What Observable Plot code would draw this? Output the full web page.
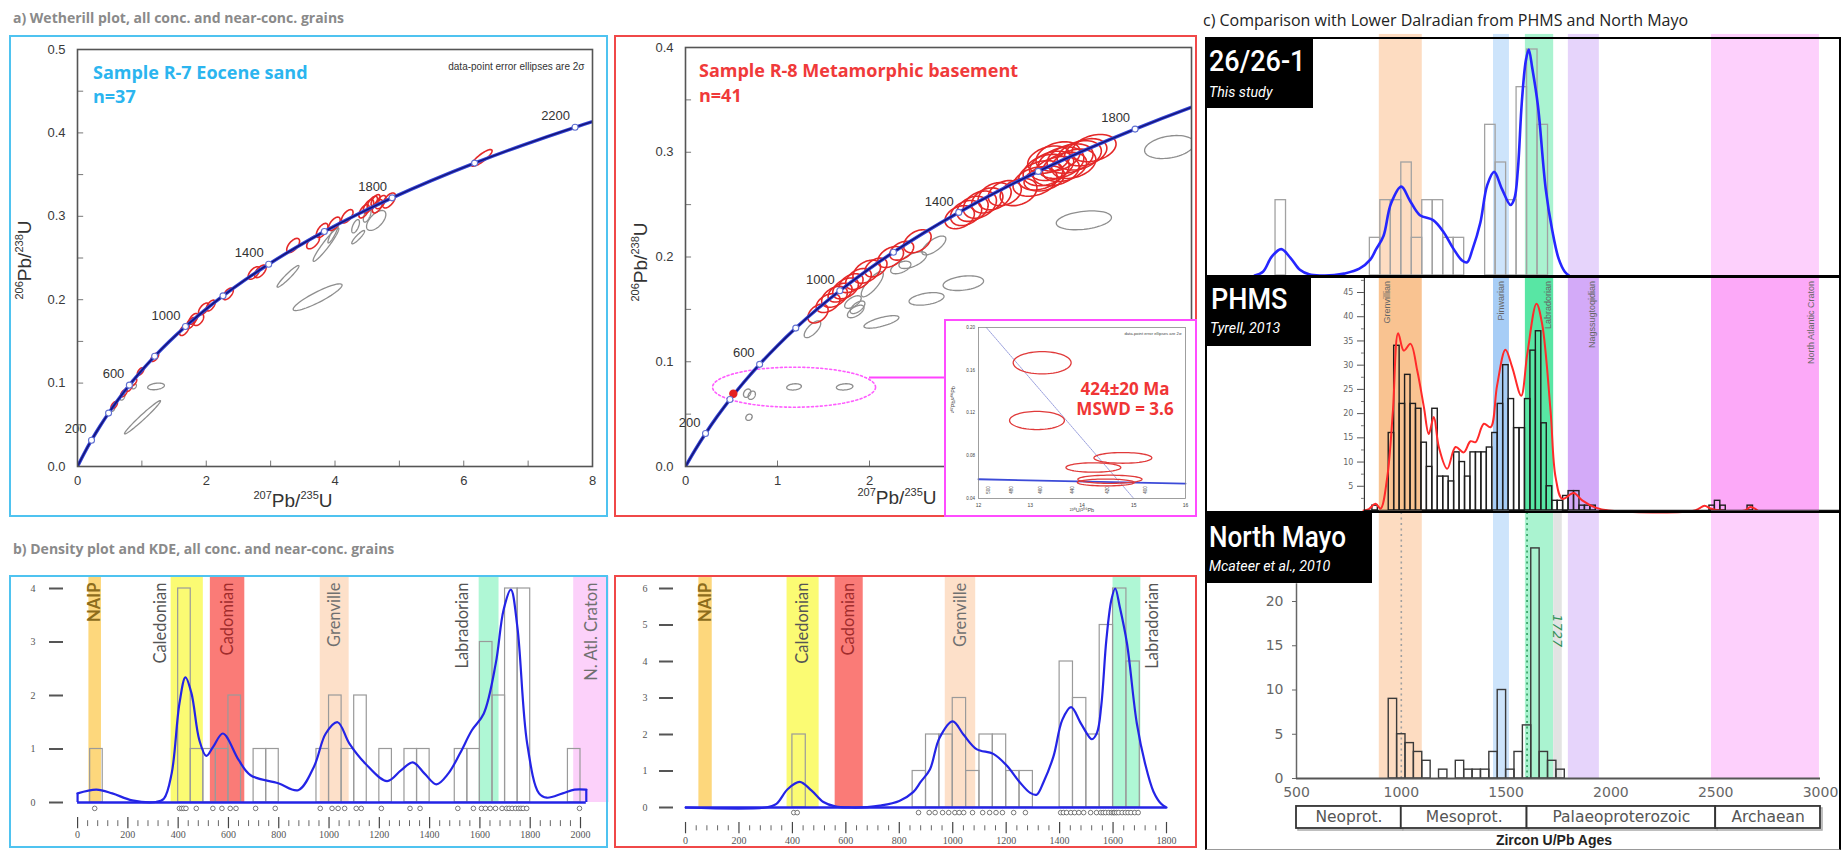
<!DOCTYPE html>
<html lang="en">
<head>
<meta charset="utf-8">
<title>Zircon U–Pb: Wetherill plots, density plots and Dalradian comparison</title>
<script src="https://cdn.jsdelivr.net/npm/d3@7"></script>
<script src="https://cdn.jsdelivr.net/npm/@observablehq/plot@0.6"></script>
<style>
  html, body { margin: 0; padding: 0; background: #fff; }
  #page { position: relative; width: 1841px; height: 851px; overflow: hidden; background: #fff; font-family: "Open Sans", sans-serif; }
  #page svg { position: absolute; overflow: visible; }
  .t { position: absolute; white-space: nowrap; line-height: 1; }
  .frame { position: absolute; box-sizing: border-box; pointer-events: none; }
  .thick [aria-label^="y-axis"] { stroke-width: 2px; }
  sup { font-size: 58%; vertical-align: 0.72em; line-height: 0; }
</style>
</head>
<body>
<div id="page"></div>
<script>
// ---------------------------------------------------------------------------
// Wetherill concordia: age (Ma), 207Pb/235U, 206Pb/238U
const concAge = [0,100,200,300,400,500,600,700,800,900,1000,1100,1200,1300,1400,1500,1600,1700,1800,1900,2000,2100,2200,2300];
const conc207 = [0,0.1035,0.2177,0.3437,0.4828,0.6363,0.8056,0.9925,1.1987,1.4263,1.6774,1.9545,2.2603,2.5977,2.9701,3.3810,3.8344,4.3348,4.8869,5.4962,6.1685,6.9104,7.7291,8.6321];
const conc206 = [0,0.01563,0.03151,0.04764,0.06402,0.08065,0.09754,0.11470,0.13213,0.14983,0.16780,0.18606,0.20460,0.22343,0.24256,0.26199,0.28172,0.30175,0.32210,0.34277,0.36377,0.38509,0.40674,0.42871];
const markerAges = [200,400,600,800,1000,1200,1400,1600,1800,2000,2200];
const labelAges = [200,600,1000,1400,1800,2200];

// Error ellipses: [207Pb/235U, 206Pb/238U, half-width x, half-width y, correlation]
const r7Red = [
  [0.57,0.0735,0.05,0.0045,0.6],[0.72,0.088,0.05,0.0045,0.6],[0.80,0.094,0.045,0.004,0.6],
  [0.87,0.101,0.05,0.0045,0.6],[0.98,0.114,0.05,0.0045,0.6],[1.20,0.131,0.06,0.005,0.6],
  [1.66,0.164,0.075,0.007,0.6],[1.76,0.172,0.07,0.0065,0.6],[1.80,0.177,0.07,0.0065,0.6],
  [1.88,0.176,0.08,0.007,0.5],[1.96,0.189,0.08,0.007,0.6],[2.07,0.193,0.07,0.0065,0.6],
  [2.34,0.207,0.08,0.007,0.6],[2.74,0.232,0.09,0.0075,0.6],[2.84,0.234,0.09,0.0075,0.6],
  [3.35,0.265,0.10,0.0085,0.6],[3.66,0.269,0.10,0.008,0.6],[3.80,0.283,0.09,0.0085,0.6],
  [3.99,0.291,0.09,0.008,0.6],[4.19,0.300,0.09,0.008,0.6],[4.45,0.306,0.08,0.008,0.6],
  [4.52,0.312,0.08,0.008,0.6],[4.58,0.316,0.08,0.008,0.6],[4.63,0.319,0.07,0.007,0.6],
  [4.66,0.312,0.08,0.008,0.6],[4.71,0.317,0.08,0.008,0.6],[4.84,0.319,0.10,0.009,0.6],
  [6.28,0.370,0.16,0.010,0.85]
];
const r7Gray = [
  [0.55,0.069,0.03,0.003,0.5],[0.70,0.083,0.035,0.0035,0.5],[0.88,0.096,0.035,0.003,0.4],
  [1.22,0.096,0.13,0.004,0.3],[1.01,0.059,0.28,0.02,0.98],[3.27,0.228,0.17,0.013,0.95],
  [3.73,0.203,0.38,0.016,0.9],[3.86,0.266,0.20,0.02,0.95],[4.36,0.275,0.10,0.008,0.9],
  [4.64,0.295,0.15,0.012,0.6],[4.32,0.288,0.06,0.008,0.6],[4.50,0.301,0.06,0.008,0.6],
  [3.97,0.279,0.08,0.011,0.9]
];
const r8Red = [
  [1.44,0.146,0.11,0.009,0.4],[1.55,0.156,0.13,0.009,0.4],[1.62,0.162,0.14,0.010,0.4],
  [1.68,0.166,0.13,0.009,0.4],[1.74,0.170,0.14,0.010,0.4],[1.80,0.175,0.13,0.009,0.4],
  [1.88,0.179,0.14,0.010,0.4],[1.97,0.186,0.15,0.011,0.4],[2.07,0.190,0.12,0.009,0.4],
  [2.23,0.200,0.14,0.010,0.4],[2.35,0.206,0.13,0.009,0.4],[2.52,0.215,0.15,0.011,0.4],
  [2.98,0.238,0.16,0.011,0.3],[3.05,0.242,0.17,0.012,0.3],[3.12,0.246,0.17,0.012,0.3],
  [3.20,0.250,0.18,0.013,0.3],[3.28,0.254,0.17,0.012,0.3],[3.36,0.258,0.18,0.013,0.3],
  [3.47,0.261,0.18,0.012,0.3],[3.62,0.262,0.20,0.013,0.3],[3.80,0.272,0.24,0.014,0.3],
  [3.86,0.278,0.24,0.014,0.3],[3.92,0.283,0.25,0.015,0.3],[3.98,0.287,0.24,0.014,0.3],
  [4.03,0.282,0.25,0.014,0.3],[4.08,0.290,0.25,0.015,0.3],[4.12,0.286,0.24,0.014,0.3],
  [4.18,0.294,0.25,0.014,0.3],[4.22,0.289,0.24,0.014,0.3],[4.28,0.297,0.24,0.014,0.3],
  [4.35,0.300,0.23,0.013,0.3],[4.44,0.304,0.24,0.013,0.3],[3.95,0.293,0.23,0.013,0.3],
  [4.05,0.296,0.24,0.014,0.3],[3.90,0.275,0.22,0.012,0.3]
];
const r8Gray = [
  [0.67,0.070,0.04,0.004,0.3],[0.72,0.068,0.04,0.004,0.3],[0.69,0.047,0.035,0.003,0.2],
  [1.18,0.076,0.08,0.003,0.2],[1.73,0.076,0.09,0.003,0.2],[1.38,0.131,0.09,0.008,0.7],
  [2.13,0.138,0.19,0.006,0.7],[1.85,0.148,0.09,0.006,0.6],[1.82,0.157,0.09,0.006,0.6],
  [1.87,0.152,0.08,0.006,0.6],[2.03,0.174,0.12,0.012,0.8],[2.62,0.160,0.19,0.006,0.4],
  [3.02,0.175,0.22,0.007,0.3],[2.47,0.197,0.15,0.008,0.6],[2.70,0.211,0.13,0.009,0.7],
  [2.34,0.190,0.11,0.006,0.5],[4.33,0.235,0.30,0.009,0.3],[5.26,0.305,0.27,0.011,0.3]
];
const r8Young = [[0.52, 0.0695]];

// Tera-Wasserburg inset: [238U/206Pb, 207Pb/206Pb, half-width x, half-width y, correlation]
const insetEllipses = [
  [13.23,0.167,0.56,0.0104,0],[13.13,0.113,0.53,0.0085,0],[14.79,0.078,0.56,0.005,0],
  [14.22,0.069,0.53,0.0044,0],[14.54,0.058,0.62,0.0038,0],[14.46,0.055,0.55,0.0032,0]
];
const insetDiscordia = [[12.15,0.20],[15.0,0.04]];
const insetConcordia = [[12,0.058],[16,0.054]];
const insetAgeTicks = [[12.2,"500"],[12.64,"480"],[13.2,"460"],[13.82,"440"],[14.5,"420"],[15.23,"400"]];

// ---------------------------------------------------------------------------
// Grain ages (Ma) for the density plots
const r7Ages = [68,405,414,422,431,472,538,574,607,630,708,786,965,1012,1036,1062,1108,1128,1208,1322,1362,
  1512,1574,1606,1622,1641,1662,1688,1706,1716,1728,1742,1754,1763,1772,1786,1996];
const r8Ages = [405,418,872,912,934,962,985,1008,1024,1041,1074,1112,1138,1162,1186,1228,1272,1404,1414,1426,1442,
  1456,1472,1490,1516,1538,1554,1563,1572,1584,1594,1601,1606,1613,1621,1634,1646,1656,1667,1681,1694];

// KDE curves: [age Ma, density]
const r7Kde = [[0,0.17],[75,0.24],[138,0.17],[217,0.04],[311,0.01],[343,0.07],[374,0.54],[405,1.85],[429,2.34],
  [453,2.04],[484,1.17],[512,0.87],[539,1.04],[578,1.29],[641,0.79],[688,0.51],[798,0.36],[877,0.23],[940,0.67],
  [987,1.29],[1034,1.50],[1081,1.10],[1144,0.73],[1231,0.40],[1286,0.60],[1333,0.75],[1380,0.54],[1427,0.34],
  [1474,0.54],[1521,0.92],[1568,1.35],[1615,1.66],[1663,2.6],[1694,3.6],[1723,3.98],[1749,3.28],[1788,1.10],
  [1835,0.17],[1866,0.09],[1929,0.17],[1976,0.24],[2023,0.24]];
const r8Kde = [[0,0],[300,0],[340,0.1],[382,0.5],[427,0.7],[471,0.47],[516,0.15],[560,0.03],[620,0],[680,0.01],
  [727,0.05],[800,0.18],[852,0.42],[880,0.7],[915,1.05],[950,1.9],[1000,2.36],[1040,2.0],[1089,1.6],[1152,1.47],
  [1202,1.15],[1250,0.7],[1290,0.4],[1314,0.35],[1340,0.7],[1377,1.4],[1410,2.4],[1443,2.75],[1480,2.3],
  [1521,1.87],[1540,2.05],[1556,2.8],[1575,4.6],[1594,5.7],[1608,6.0],[1625,5.5],[1652,4.5],[1689,2.3],
  [1720,1.2],[1751,0.44],[1780,0.1],[1800,0]];

// Orogenic events shown on the density plots (Ma)
const bandsR7 = [
  {name: "NAIP", from: 45, to: 95}, {name: "Caledonian", from: 372, to: 500},
  {name: "Cadomian", from: 528, to: 665}, {name: "Grenville", from: 965, to: 1080},
  {name: "Labradorian", from: 1597, to: 1676}, {name: "N. Atl. Craton", from: 1973, to: 2114}
];
const bandsR8 = [
  {name: "NAIP", from: 50, to: 100}, {name: "Caledonian", from: 380, to: 500},
  {name: "Cadomian", from: 560, to: 665}, {name: "Grenville", from: 972, to: 1086},
  {name: "Labradorian", from: 1600, to: 1704}
];

// ---------------------------------------------------------------------------
// Comparison panels
const bandsC = [
  {name: "Grenvillian", from: 895, to: 1100}, {name: "Pinwarian", from: 1440, to: 1516},
  {name: "Labradorian", from: 1592, to: 1727}, {name: "Nagssugtoqidian", from: 1797, to: 1945},
  {name: "North Atlantic Craton", from: 2480, to: 2995}
];
// PHMS (Tyrell, 2013): [bin start Ma, count], 26 Ma bins
const phmsBins = [[862,1],[940,16],[966,34],[992,22],[1018,28],[1044,22],[1070,21],[1096,14],[1122,9],[1148,21],
  [1174,7],[1200,7],[1226,6],[1252,12],[1278,10],[1304,7],[1330,12],[1356,12],[1382,12],[1408,13],[1434,16],
  [1460,22],[1486,30],[1512,23],[1538,17],[1564,17],[1590,23],[1616,33],[1642,37],[1668,18],[1694,5],[1720,2],
  [1746,2],[1772,3],[1798,4],[1824,4],[1850,1],[1876,1],[1902,1],[2470,1],[2496,2],[2522,1],[2652,1]];
const phmsKde = [[820,0],[845,0.3],[877,1.4],[901,0.4],[933,6.9],[960,20.6],[985,36.6],[1012,33.0],[1044,34.4],
  [1076,28.9],[1108,21.3],[1131,15.8],[1155,19.3],[1179,13.1],[1219,8.6],[1259,13.1],[1298,12.0],[1330,14.3],
  [1354,14.1],[1394,17.9],[1426,17.2],[1457,25.8],[1497,33.2],[1529,29.6],[1572,23.7],[1601,32.3],[1645,42.7],
  [1672,38.5],[1712,20.6],[1736,6.9],[1768,2.4],[1823,3.6],[1863,2.1],[1927,0.6],[1990,0],[2400,0],[2447,1],
  [2475,0.4],[2520,0],[2640,0],[2666,0.7],[2700,0]];
// North Mayo (McAteer et al., 2010): [bin start Ma, count], 40 Ma bins
const nmBins = [[940,9],[980,5],[1020,4],[1060,3],[1100,2],[1180,1],[1260,2],[1300,1],[1340,1],[1380,1],[1420,3],
  [1460,10],[1500,1],[1540,3],[1580,6],[1620,26],[1660,3],[1700,2],[1740,1]];
const nmGrayBand = [{from: 1727, to: 1768}];
const nmRefLines = [{age: 1000, kind: "grey"}, {age: 1600, kind: "green"}];
const nmPeakLabel = [{age: 1744, value: 16.7, text: "1727"}];
const eras = [
  {name: "Neoprot.", from: 500, to: 1000}, {name: "Mesoprot.", from: 1000, to: 1600},
  {name: "Palaeoproterozoic", from: 1600, to: 2500}, {name: "Archaean", from: 2500, to: 3000}
];

// ---------------------------------------------------------------------------
// Styles and label placement
const bandFill = {"NAIP": "#fdd77c", "Caledonian": "#fbfb73", "Cadomian": "#fa7b77", "Grenville": "#fde0c9",
  "Labradorian": "#aff7d5", "N. Atl. Craton": "#fcd1fa"};
const bandInk = {"NAIP": "#8d6c1c", "Caledonian": "#555", "Cadomian": "#a12c2c", "Grenville": "#707070",
  "Labradorian": "#555", "N. Atl. Craton": "#707070"};
const labelAtR7 = {"NAIP": 70, "Caledonian": 332, "Cadomian": 596, "Grenville": 1022, "Labradorian": 1530, "N. Atl. Craton": 2043};
const labelAtR8 = {"NAIP": 75, "Caledonian": 440, "Cadomian": 612, "Grenville": 1029, "Labradorian": 1748};
const lightFill = {"Grenvillian": "#fddcc1", "Pinwarian": "#cde4fb", "Labradorian": "#aaf3d0",
  "Nagssugtoqidian": "#e6d4fb", "North Atlantic Craton": "#fdd0fc"};
const strongFill = {"Grenvillian": "#f9c391", "Pinwarian": "#a7cdf6", "Labradorian": "#58e6a4",
  "Nagssugtoqidian": "#d3aaf8", "North Atlantic Craton": "#fca9f8"};
const phmsLabelAt = {"Grenvillian": 934, "Pinwarian": 1475, "Labradorian": 1702, "Nagssugtoqidian": 1911, "North Atlantic Craton": 2957};

const page = document.getElementById("page");
function place(node, left, top) {
  node.style.left = left + "px"; node.style.top = top + "px";
  page.appendChild(node); return node;
}
function label(html, x, y, css) {
  const d = document.createElement("div");
  d.className = "t"; d.innerHTML = html;
  d.style.cssText += `left:${x}px;top:${y}px;` + (css || "");
  page.appendChild(d); return d;
}
function frameBox(x, y, w, h, css) {
  const d = document.createElement("div");
  d.className = "frame";
  d.style.cssText += `left:${x}px;top:${y}px;width:${w}px;height:${h}px;` + css;
  page.appendChild(d); return d;
}
function ellipsePoints(list, n = 64) {
  const pts = [];
  list.forEach(([cx, cy, a, b, rho], i) => {
    const s = Math.sqrt(1 - rho * rho);
    for (let k = 0; k <= n; k++) {
      const t = 2 * Math.PI * k / n;
      pts.push({id: i, x: cx + a * Math.cos(t), y: cy + b * (rho * Math.cos(t) + s * Math.sin(t))});
    }
  });
  return pts;
}
const baseStyle = {background: "transparent", overflow: "visible",
  fontFamily: "'Liberation Sans', Arial, sans-serif", fontSize: "13px", color: "#3a3a3a"};
const plain = d => String(d);

// ---------------------------------------------------------------------------
// a) Wetherill plots
const concordia = concAge.map((t, i) => ({t, x: conc207[i], y: conc206[i]}));
const markers = concordia.filter(d => markerAges.includes(d.t));

function wetherill(o) {
  const inside = d => d.x <= o.xMax;
  const yMinor = d3.range(1, Math.round(o.yMax / 0.05)).map(i => i * 0.05);
  const xMinor = d3.range(1, o.xMax);
  return Plot.plot({
    width: o.width, height: o.height,
    marginLeft: o.ml, marginRight: o.mr, marginTop: o.mt, marginBottom: o.mb,
    style: baseStyle,
    x: {domain: [0, o.xMax], ticks: o.xTicks, tickSize: 0, tickPadding: 9, tickFormat: plain, label: null},
    y: {domain: [0, o.yMax], ticks: o.yTicks, tickSize: 0, tickPadding: 12, tickFormat: ".1f", label: null},
    marks: [
      Plot.ruleY(yMinor, {y: d => d, x1: 0, x2: o.xMax * 0.012, stroke: "#777"}),
      Plot.ruleX(xMinor, {x: d => d, y1: 0, y2: o.yMax * 0.013, stroke: "#777"}),
      ...(o.before || []),
      Plot.line(ellipsePoints(o.gray), {x: "x", y: "y", z: "id", stroke: "#8e8e8e", strokeWidth: 1.3, clip: true}),
      Plot.line(ellipsePoints(o.red), {x: "x", y: "y", z: "id", stroke: "#e42828", strokeWidth: 1.6, clip: true}),
      Plot.line(concordia, {x: "x", y: "y", stroke: "#3344d6", strokeWidth: 3.4, curve: "catmull-rom", clip: true}),
      Plot.line(concordia, {x: "x", y: "y", stroke: "#15157a", strokeWidth: 1.5, curve: "catmull-rom", clip: true}),
      ...(o.mid || []),
      Plot.dot(markers.filter(inside), {x: "x", y: "y", r: 3, fill: "white", stroke: "#6070d0", strokeWidth: 1.1}),
      Plot.text(markers.filter(d => labelAges.includes(d.t) && inside(d)),
        {x: "x", y: "y", text: d => String(d.t), textAnchor: "end", dx: -5, dy: -11, fontSize: 13, fill: "#333"}),
      ...(o.after || []),
      Plot.frame({stroke: "#555", strokeWidth: 1.6})
    ]
  });
}

place(wetherill({
  width: 599, height: 482, ml: 68, mr: 16, mt: 14, mb: 51,
  xMax: 8, yMax: 0.5, xTicks: 4, yTicks: 5, red: r7Red, gray: r7Gray,
  after: [Plot.text(["data-point error ellipses are 2σ"], {frameAnchor: "top-right", dx: -8, dy: 13, fontSize: 10, fill: "#333"})]
}), 9, 35);

const insetLink = [{x1: 2.0, x2: 2.815, y: 0.085}];
place(wetherill({
  width: 583, height: 482, ml: 71, mr: 6, mt: 12, mb: 51,
  xMax: 5.5, yMax: 0.4, xTicks: 5, yTicks: 4, red: r8Red, gray: r8Gray,
  before: [
    Plot.line(ellipsePoints([[1.18, 0.0757, 0.886, 0.0191, 0]], 90), {x: "x", y: "y", z: "id",
      stroke: "#ff5cff", strokeWidth: 1.6, strokeDasharray: "2,2.5"}),
    Plot.ruleY(insetLink, {y: "y", x1: "x1", x2: "x2", stroke: "#ff44ff", strokeWidth: 2})
  ],
  mid: [Plot.dot(r8Young, {x: d => d[0], y: d => d[1], r: 4.2, fill: "#e42020"})]
}), 614, 35);

// Tera-Wasserburg inset
place(Plot.plot({
  width: 253, height: 198, marginLeft: 34, marginRight: 12, marginTop: 8, marginBottom: 19,
  style: {...baseStyle, background: "#fff", fontSize: "5px"},
  x: {domain: [12, 16], axis: null},
  y: {domain: [0.04, 0.20], axis: null},
  marks: [
    Plot.line(insetConcordia, {x: d => d[0], y: d => d[1], stroke: "#3c4bd8", strokeWidth: 1.8}),
    Plot.line(insetDiscordia, {x: d => d[0], y: d => d[1], stroke: "#8c93d8", strokeWidth: 0.9, strokeDasharray: "1.5,1"}),
    Plot.text(insetAgeTicks, {x: d => d[0], y: 0.048, text: d => d[1], rotate: -90, fontSize: 4.5, fill: "#444"}),
    Plot.line(ellipsePoints(insetEllipses), {x: "x", y: "y", z: "id", stroke: "#e03a3a", strokeWidth: 1.3}),
    Plot.text([12, 13, 14, 15, 16], {x: d => d, y: 0.04, dy: 7, text: d => String(d), fontSize: 5, fill: "#444"}),
    Plot.text([0.04, 0.08, 0.12, 0.16, 0.20], {x: 12, y: d => d, dx: -8, text: d => d.toFixed(2), fontSize: 4.5, fill: "#444"}),
    Plot.text(["data-point error ellipses are 2σ"], {frameAnchor: "top-right", dx: -4, dy: 5, fontSize: 4.2, fill: "#444"}),
    Plot.text(["²³⁸U/²⁰⁶Pb"], {frameAnchor: "bottom", dy: 13, fontSize: 5.5, fill: "#444"}),
    Plot.text(["²⁰⁷Pb/²⁰⁶Pb"], {frameAnchor: "left", dx: -25, rotate: -90, fontSize: 5.5, fill: "#444"}),
    Plot.frame({stroke: "#888", strokeWidth: 0.8})
  ]
}), 944, 319);

// ---------------------------------------------------------------------------
// b) Density plots with KDE
function density(o) {
  const kdeBlue = "#2424e6";
  const majors = d3.range(0, o.tickMax + 1, 200);
  const minors = d3.range(0, o.tickMax + 1, 40).filter(d => d % 200);
  const first = o.kde[0], last = o.kde[o.kde.length - 1];
  const svg = Plot.plot({
    width: o.width, height: o.height,
    marginLeft: o.ml, marginRight: o.mr, marginTop: o.mt, marginBottom: o.mb,
    style: {...baseStyle, fontFamily: "'Liberation Serif', serif", fontSize: "10px", color: "#555"},
    color: {type: "identity"},
    x: {domain: [o.xMin, o.tickMax], axis: null},
    y: {domain: [0, o.yMax], ticks: o.yMax, tickSize: 14, tickPadding: o.tickPad, tickFormat: plain, label: null},
    marks: [
      Plot.rect(o.bands, {x1: "from", x2: "to", y1: 0, y2: o.bandTop, fill: d => bandFill[d.name]}),
      Plot.rectY(o.ages, Plot.binX({y: "count"}, {x: d => d, thresholds: d3.range(0, 2151, 50),
        fill: "none", stroke: "#9a9a9a", strokeWidth: 1.2, inset: 0})),
      Plot.text(o.bands.filter(d => d.name !== "NAIP"), {x: d => o.labelAt[d.name], y: o.labelTop, text: "name",
        rotate: -90, textAnchor: "end", fontFamily: "Lato, sans-serif", fontSize: 16.5, fill: d => bandInk[d.name]}),
      Plot.text(o.bands.filter(d => d.name === "NAIP"), {x: d => o.labelAt[d.name], y: o.labelTop, text: "name",
        rotate: -90, textAnchor: "end", fontFamily: "Lato, sans-serif", fontWeight: "bold", fontSize: 16.5, fill: d => bandInk[d.name]}),
      Plot.ruleY([0], {x1: first[0], x2: last[0], stroke: kdeBlue, strokeWidth: 2.6}),
      Plot.ruleX([first, last], {x: d => d[0], y1: 0, y2: d => d[1], stroke: kdeBlue, strokeWidth: 2.2}),
      Plot.line(o.kde, {x: d => d[0], y: d => d[1], stroke: kdeBlue, strokeWidth: 2.2, curve: "catmull-rom"}),
      Plot.dot(o.ages, {x: d => d, y: o.dotY, r: 2.3, fill: "white", stroke: "#555", strokeWidth: 0.8}),
      Plot.ruleX(majors, {x: d => d, y1: o.majorTick[0], y2: o.majorTick[1], stroke: "#444", strokeWidth: 1.2}),
      Plot.ruleX(minors, {x: d => d, y1: o.minorTick[0], y2: o.minorTick[1], stroke: "#666", strokeWidth: 1}),
      Plot.text(majors, {x: d => d, y: o.tickLabelY, text: d => String(d), fontSize: 10, fill: "#555"})
    ]
  });
  svg.classList.add("thick");
  return svg;
}

place(density({
  width: 599, height: 273, ml: 54, mr: 28, mt: 13, mb: 46, xMin: -56, tickMax: 2000, yMax: 4, tickPad: 14,
  bands: bandsR7, bandTop: 4.23, labelAt: labelAtR7, labelTop: 4.11, ages: r7Ages, kde: r7Kde,
  dotY: -0.11, majorTick: [-0.28, -0.49], minorTick: [-0.34, -0.45], tickLabelY: -0.6
}), 9, 575);

place(density({
  width: 583, height: 273, ml: 59, mr: 31, mt: 13, mb: 41, xMin: -45, tickMax: 1800, yMax: 6, tickPad: 12,
  bands: bandsR8, bandTop: 6.3, labelAt: labelAtR8, labelTop: 6.16, ages: r8Ages, kde: r8Kde,
  dotY: -0.14, majorTick: [-0.41, -0.72], minorTick: [-0.5, -0.64], tickLabelY: -0.9
}), 614, 575);

// ---------------------------------------------------------------------------
// c) Comparison panels (shared age axis 500–3000 Ma)
const cx = {domain: [500, 3000], axis: null};

// 26/26-1 (this study)
place(Plot.plot({
  width: 636, height: 239, marginLeft: 91, marginRight: 21, marginTop: 12, marginBottom: 1,
  style: baseStyle, color: {type: "identity"},
  x: cx, y: {domain: [0, 6], axis: null},
  marks: [
    Plot.rect(bandsC, {x1: "from", x2: "to", y1: 0, y2: 6.4, fill: d => lightFill[d.name]}),
    Plot.rectY(r8Ages, Plot.binX({y: "count"}, {x: d => d, thresholds: d3.range(0, 2001, 50),
      fill: "none", stroke: "#a2a2a2", strokeWidth: 1.3, inset: 0})),
    Plot.line(r8Kde.filter(d => d[0] >= 250), {x: d => d[0], y: d => d[1], stroke: "#2626ff", strokeWidth: 2.6, curve: "catmull-rom"})
  ]
}), 1205, 37);

// PHMS
const phmsMajor = [5, 10, 15, 20, 25, 30, 35, 40, 45];
const phmsMinor = [2.5, 7.5, 12.5, 17.5, 22.5, 27.5, 32.5, 37.5, 42.5, 47.5];
place(Plot.plot({
  width: 636, height: 236, marginLeft: 91, marginRight: 21, marginTop: 16, marginBottom: 2,
  style: {...baseStyle, fontFamily: "'DejaVu Sans', sans-serif"}, color: {type: "identity"},
  x: cx, y: {domain: [0, 45], axis: null},
  marks: [
    Plot.rect(bandsC, {x1: "from", x2: "to", y1: 0, y2: 48.5, fill: d => strongFill[d.name]}),
    Plot.text(bandsC, {x: d => phmsLabelAt[d.name], y: 47.4, text: "name", rotate: -90, textAnchor: "end",
      fontFamily: "'Liberation Sans', sans-serif", fontSize: 9, fill: "#666"}),
    Plot.rect(phmsBins, {x1: d => d[0], x2: d => d[0] + 26, y1: 0, y2: d => d[1], fill: "none", stroke: "#1e1e1e", strokeWidth: 1.4}),
    Plot.line(phmsKde, {x: d => d[0], y: d => d[1], stroke: "#ff2a2a", strokeWidth: 2, curve: "catmull-rom"}),
    Plot.ruleX([824], {x: d => d, y1: 0, y2: 48.5, stroke: "#333", strokeWidth: 1.2}),
    Plot.ruleY([0], {x1: 824, x2: 3100, stroke: "#111", strokeWidth: 1.6}),
    Plot.ruleY(phmsMajor, {y: d => d, x1: 791, x2: 824, stroke: "#555"}),
    Plot.ruleY(phmsMinor, {y: d => d, x1: 810, x2: 824, stroke: "#777"}),
    Plot.text(phmsMajor, {x: 824, y: d => d, dx: -11, text: d => String(d), textAnchor: "end", fontSize: 8, fill: "#666"})
  ]
}), 1205, 276);

// North Mayo
place(Plot.plot({
  width: 636, height: 339, marginLeft: 91, marginRight: 21, marginTop: 89, marginBottom: 73,
  style: {...baseStyle, fontFamily: "'DejaVu Sans', sans-serif", fontSize: "14px", color: "#666"},
  color: {type: "identity"},
  x: {domain: [500, 3000], ticks: 5, tickSize: 0, tickPadding: 9, tickFormat: plain, label: null},
  y: {domain: [0, 20], ticks: 4, tickSize: 4, tickPadding: 9, tickFormat: plain, label: null},
  marks: [
    Plot.rect(bandsC, {x1: "from", x2: "to", y1: 0, y2: 30.2, fill: d => lightFill[d.name]}),
    Plot.rect(nmGrayBand, {x1: "from", x2: "to", y1: 0, y2: 30.2, fill: "#e3e3e3"}),
    Plot.ruleX(nmRefLines, {x: "age", y1: 0, y2: 30.2, stroke: d => d.kind === "green" ? "#2f9e5f" : "#a0a0a0",
      strokeWidth: 1.6, strokeDasharray: "2,3.5"}),
    Plot.rect(nmBins, {x1: d => d[0], x2: d => d[0] + 40, y1: 0, y2: d => d[1], fill: "none", stroke: "#3a3a3a", strokeWidth: 1.4}),
    Plot.text(nmPeakLabel, {x: "age", y: "value", text: "text", rotate: 90, fontSize: 13, fontStyle: "italic", fill: "#2f8f57"}),
    Plot.ruleX([500], {x: d => d, y1: 0, y2: 22, stroke: "#666", strokeWidth: 1.5}),
    Plot.ruleY([0], {x1: 500, x2: 3000, stroke: "#555", strokeWidth: 2}),
    Plot.rect(eras, {x1: "from", x2: "to", y1: -5.65, y2: -3.16, fill: "none", stroke: "#aaa", strokeWidth: 1.5, dx: 2, dy: 2}),
    Plot.rect(eras, {x1: "from", x2: "to", y1: -5.65, y2: -3.16, fill: "white", stroke: "#333", strokeWidth: 1.8}),
    Plot.text(eras, {x: d => (d.from + d.to) / 2, y: -4.41, text: "name", fontSize: 15.5, fill: "#555"})
  ]
}), 1205, 512);

// ---------------------------------------------------------------------------
// Frames, panel titles and text
frameBox(9, 35, 599, 482, "border:2px solid #4fc3f0;");
frameBox(614, 35, 583, 482, "border:2px solid #f04848;");
frameBox(944, 319, 253, 198, "border:2px solid #ff4cff;");
frameBox(9, 575, 599, 273, "border:2px solid #4fc3f0;");
frameBox(614, 575, 583, 273, "border:2px solid #f04848;");
frameBox(1205, 37, 636, 813, "border-top:2.5px solid #000;border-left:2px solid #000;border-right:2px solid #000;border-bottom:1px solid #999;");
frameBox(1205, 274.5, 636, 3, "background:#000;");
frameBox(1205, 510.5, 636, 2.5, "background:#000;");

label("a) Wetherill plot, all conc. and near-conc. grains", 13, 18,
  "transform:translateY(-50%);font-weight:700;font-size:14px;color:#8a8a8a;");
label("b) Density plot and KDE, all conc. and near-conc. grains", 13, 549,
  "transform:translateY(-50%);font-weight:700;font-size:14px;color:#8a8a8a;");
label("c) Comparison with Lower Dalradian from PHMS and North Mayo", 1203, 20,
  "transform:translateY(-50%);font-size:16px;color:#222;");

label("Sample R-7 Eocene sand", 93, 72, "transform:translateY(-50%);font-weight:700;font-size:18px;color:#2bb5ef;");
label("n=37", 93, 96, "transform:translateY(-50%);font-weight:700;font-size:18px;color:#2bb5ef;");
label("Sample R-8 Metamorphic basement", 699, 70, "transform:translateY(-50%);font-weight:700;font-size:18px;color:#f03a3a;");
label("n=41", 699, 95, "transform:translateY(-50%);font-weight:700;font-size:18px;color:#f03a3a;");

const axisFont = "font-family:'Liberation Sans',Arial,sans-serif;font-size:19px;color:#333;";
label("<sup>207</sup>Pb/<sup>235</sup>U", 293, 500, "transform:translate(-50%,-50%);" + axisFont);
label("<sup>206</sup>Pb/<sup>238</sup>U", 24, 260, "transform:translate(-50%,-50%) rotate(-90deg);" + axisFont);
label("<sup>207</sup>Pb/<sup>235</sup>U", 897, 497, "transform:translate(-50%,-50%);" + axisFont);
label("<sup>206</sup>Pb/<sup>238</sup>U", 640, 262, "transform:translate(-50%,-50%) rotate(-90deg);" + axisFont);

label("424±20 Ma", 1125, 388, "transform:translate(-50%,-50%);font-weight:700;font-size:17px;color:#f03535;");
label("MSWD = 3.6", 1125, 408, "transform:translate(-50%,-50%);font-weight:700;font-size:17px;color:#f03535;");

// black name tags of the comparison panels
frameBox(1205, 37, 108, 71, "background:#000;");
frameBox(1205, 276, 106, 70, "background:#000;");
frameBox(1205, 512, 167, 71, "background:#000;");
const tagBig = "font-family:Roboto,sans-serif;font-weight:500;color:#fff;transform-origin:left center;";
const tagSmall = "font-family:Roboto,sans-serif;font-style:italic;color:#fff;font-size:15px;transform-origin:left center;";
label("26/26-1", 1209, 61, tagBig + "font-size:30px;transform:translateY(-50%) scaleX(0.9);");
label("This study", 1209, 92, tagSmall + "transform:translateY(-50%) scaleX(0.95);");
label("PHMS", 1211, 299, tagBig + "font-size:30px;transform:translateY(-50%) scaleX(0.9);");
label("Tyrell, 2013", 1210, 328, tagSmall + "transform:translateY(-50%) scaleX(0.95);");
label("North Mayo", 1209, 537, tagBig + "font-size:29px;transform:translateY(-50%) scaleX(0.9);");
label("Mcateer et al., 2010", 1209, 566, tagSmall + "transform:translateY(-50%) scaleX(0.95);");

label("Zircon U/Pb Ages", 1554, 840, "transform:translate(-50%,-50%);font-family:'Liberation Sans',Arial,sans-serif;font-weight:700;font-size:14px;color:#222;");
</script>
</body>
</html>
